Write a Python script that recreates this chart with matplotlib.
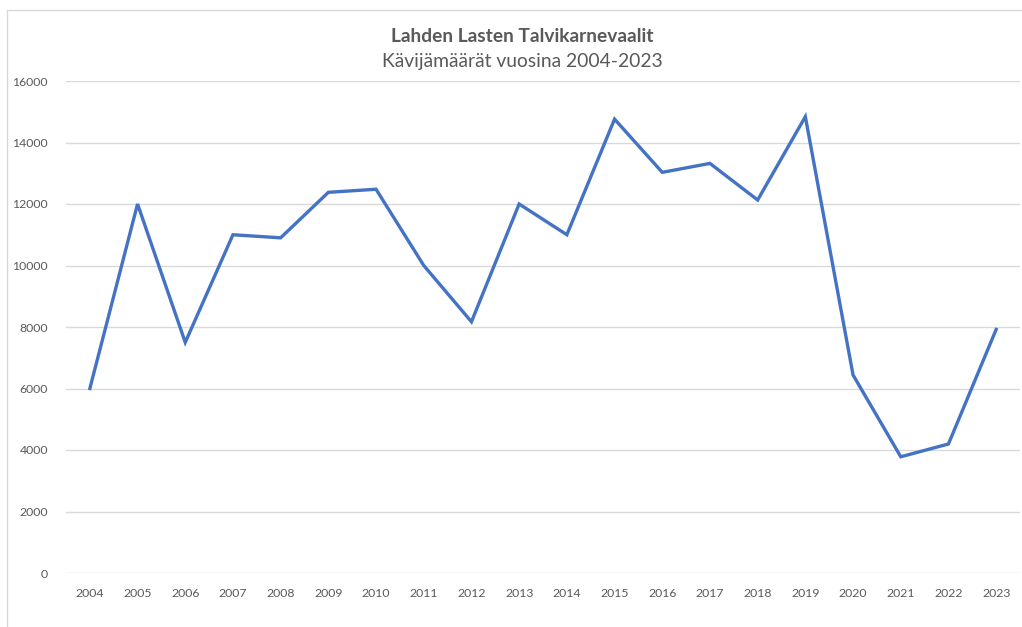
import matplotlib
matplotlib.use("Agg")
import matplotlib.pyplot as plt
from matplotlib.patches import Rectangle

years = [str(y) for y in range(2004, 2024)]
visitors = [6000, 12000, 7500, 11000, 10900, 12380, 12480, 10000, 8170, 12000,
            11000, 14760, 13030, 13320, 12130, 14840, 6440, 3780, 4195, 7920]
yticks = list(range(0, 16001, 2000))

plt.rcParams["font.family"] = ["Lato", "DejaVu Sans"]
grey = "#595959"

W, H = 1022, 627
fig = plt.figure(figsize=(W / 100, H / 100), dpi=100)
fig.patches.append(Rectangle((7 / W, -0.1), 1.1, 1 - 10 / H + 0.1, transform=fig.transFigure,
                             fill=False, edgecolor="#d9d9d9", lw=1))

ax = fig.add_axes([66 / W, 54 / H, (1020 - 66) / W, (573 - 81) / H])
x = range(len(years))
ax.plot(x, visitors, color="#4472C4", lw=2.4, solid_joinstyle="miter", zorder=3)
ax.set_xlim(-0.5, len(years) - 0.5)
ax.set_ylim(0, 16000)
ax.set_xticks(list(x))
ax.set_xticklabels(years)
ax.set_yticks(yticks)
ax.set_yticklabels([str(v) for v in yticks])
ax.tick_params(length=0, labelsize=8.8, labelcolor=grey)
ax.tick_params(axis="x", pad=11)
ax.tick_params(axis="y", pad=13)
ax.grid(axis="y", color="#d9d9d9", lw=1)
ax.set_axisbelow(True)
for s in ax.spines.values():
    s.set_visible(False)

fig.text(522 / W, 1 - 36 / H, "Lahden Lasten Talvikarnevaalit", ha="center", va="center",
         fontsize=13.8, fontweight="bold", color=grey)
fig.text(522 / W, 1 - 61 / H, "Kävijämäärät vuosina 2004-2023", ha="center", va="center",
         fontsize=13.9, color=grey)

fig.savefig("out.png", dpi=100)
